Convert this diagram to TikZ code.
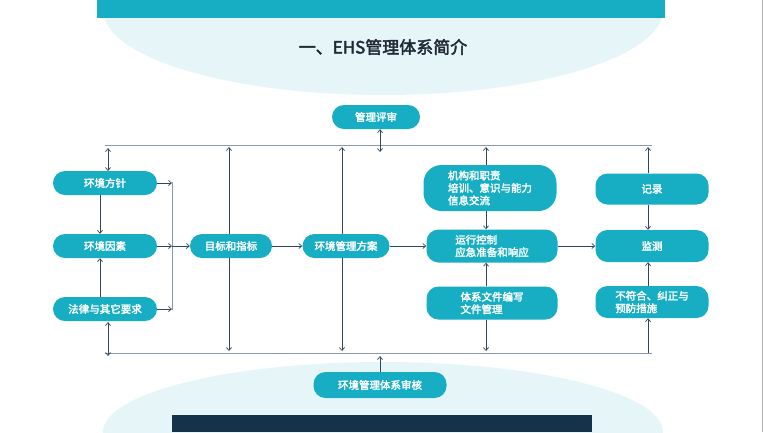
\documentclass[tikz,border=0pt]{standalone}
\usepackage{fontspec}
\setmainfont{Noto Sans CJK SC}[AutoFakeBold=2.5]
\usetikzlibrary{positioning,arrows.meta}
\definecolor{boxteal}{HTML}{17AEC4}
\definecolor{rulegray}{HTML}{8A9AA8}
\definecolor{arrowdark}{HTML}{34465A}
\definecolor{titledark}{HTML}{1F2A36}
\definecolor{paleblue}{HTML}{E6F5F8}
\definecolor{navy}{HTML}{14324A}
\begin{document}
\begin{tikzpicture}[
  x=1pt, y=-1pt,
  font=\bfseries\fontsize{10.5}{12.5}\selectfont,
  flowbox/.style={fill=boxteal, text=white, rounded corners=12pt, inner sep=3pt, align=left},
  arrow/.style={-{Straight Barb[length=3pt,width=5pt]}, line width=0.7pt, draw=arrowdark},
  both/.style={{Straight Barb[length=3pt,width=5pt]}-{Straight Barb[length=3pt,width=5pt]}, line width=0.7pt, draw=arrowdark},
  rule/.style={line width=0.8pt, draw=rulegray}
]
\useasboundingbox (0,0) rectangle (765,432);

% background
\fill[paleblue] (383,10) ellipse (280 and 85);
\fill[paleblue] (383,432) ellipse (280 and 70);
\fill[white] (0,100) rectangle (765,360);
\fill[boxteal] (97,0) rectangle (665,18);
\fill[navy] (172,415) rectangle (592,432);
\draw[gray!60] (762,0) -- (762,432);
\node[font=\bfseries\fontsize{17}{20}\selectfont, text=titledark] (title) at (383,47) {一、EHS管理体系简介};

% boxes
\node[flowbox, minimum width=88pt, minimum height=24pt, align=center] (review) at (376,117) {管理评审};
\node[flowbox, minimum width=104pt, minimum height=24pt, align=center] (policy) at (105,183) {环境方针};
\node[flowbox, minimum width=104pt, minimum height=24pt, align=center] (aspects) at (105,246) {环境因素};
\node[flowbox, minimum width=104pt, minimum height=24pt, align=center] (legal) at (105,309) {法律与其它要求};
\node[flowbox, minimum width=82pt, minimum height=24pt, align=center] (target) at (231,246) {目标和指标};
\node[flowbox, minimum width=87pt, minimum height=24pt, align=center] (plan) at (346,246) {环境管理方案};
\node[flowbox, minimum width=133pt, minimum height=46pt, rounded corners=18pt] (roles) at (490,188) {机构和职责\\培训、意识与能力\\信息交流};
\node[flowbox, minimum width=131pt, minimum height=33pt] (control) at (492,246) {运行控制\\应急准备和响应};
\node[flowbox, minimum width=131pt, minimum height=33pt] (docs) at (492,303) {体系文件编写\\文件管理};
\node[flowbox, minimum width=113pt, minimum height=31pt, align=center] (records) at (652,189) {记录};
\node[flowbox, minimum width=113pt, minimum height=32pt, align=center] (monitor) at (652,246) {监测};
\node[flowbox, minimum width=113pt, minimum height=32pt] (nonconf) at (652,302) {不符合、纠正与\\预防措施};
\node[flowbox, minimum width=133pt, minimum height=26pt, align=center] (audit) at (380,385) {环境管理体系审核};

% rules
\coordinate (topw) at (105,145); \coordinate (tope) at (652,145);
\coordinate (botw) at (105,353); \coordinate (bote) at (652,353);
\coordinate (brtop) at (172,182); \coordinate (brbot) at (172,310);
\draw[rule] (topw) -- (tope);
\draw[rule] (botw) -- (bote);
\draw[rule] (brtop) -- (brbot);

% column positions
\coordinate (xl) at (100,0);
\coordinate (xr) at (380,0);
\coordinate (xt) at (229,0);
\coordinate (xp) at (342,0);
\coordinate (xc) at (486,0);
\coordinate (xm) at (648,0);
\coordinate (toparr) at (0,147);
\coordinate (botarr) at (0,351);

% left column
\draw[both] (108,148) -- (108,171);
\draw[both] (108,322) -- (108,356);
\draw[arrow] (policy.south -| xl) -- (aspects.north -| xl);
\draw[arrow] (legal.north -| xl) -- (aspects.south -| xl);
\draw[arrow] (policy.east) -- (policy.east -| brtop);
\draw[arrow] (legal.east) -- (legal.east -| brtop);
\draw[arrow] (aspects.east) -- (aspects.east -| brtop);
\draw[arrow] (aspects.east -| brtop) -- (target.west);

% review and audit
\draw[both] (review.south -| xr) -- (380,152);
\draw[arrow] (audit.north -| xr) -- (380,356);

% middle
\draw[arrow] (target.north -| xt) -- (toparr -| xt);
\draw[arrow] (target.south -| xt) -- (botarr -| xt);
\draw[arrow] (target) -- (plan);
\draw[arrow] (plan.north -| xp) -- (toparr -| xp);
\draw[arrow] (plan.south -| xp) -- (botarr -| xp);
\draw[arrow] (plan) -- (control);
\draw[arrow] (roles.north -| xc) -- (toparr -| xc);
\draw[arrow] (roles.south -| xc) -- (control.north -| xc);
\draw[arrow] (docs.north -| xc) -- (control.south -| xc);
\draw[arrow] (docs.south -| xc) -- (botarr -| xc);
\draw[arrow] (control) -- (monitor);

% right column
\draw[arrow] (records.north -| xm) -- (toparr -| xm);
\draw[arrow] (records.south -| xm) -- (monitor.north -| xm);
\draw[arrow] (nonconf.north -| xm) -- (monitor.south -| xm);
\draw[arrow] (bote -| xm) -- (nonconf.south -| xm);
\end{tikzpicture}
\end{document}
